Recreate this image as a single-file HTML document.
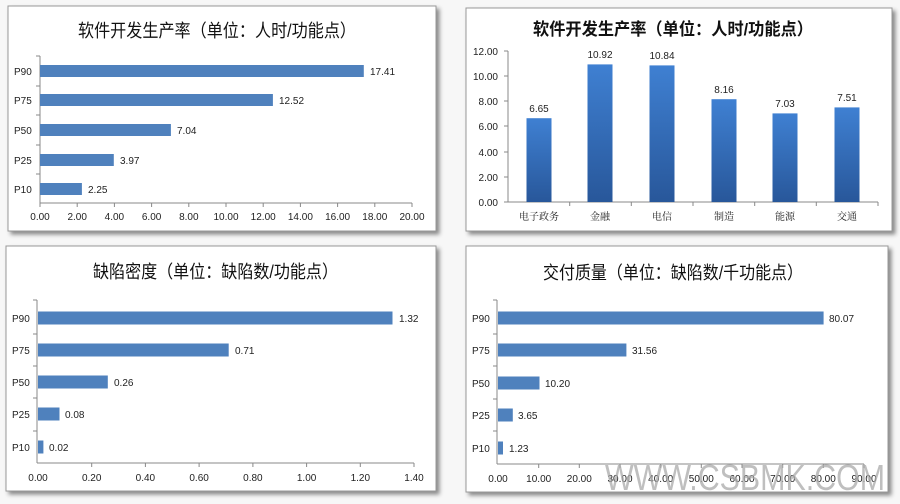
<!DOCTYPE html>
<html><head><meta charset="utf-8"><style>
body{margin:0;background:#f7f7f7;}
svg{display:block;font-family:"Liberation Sans","Noto Sans CJK SC",sans-serif;}
.t{font-size:18px;fill:#111;}
.l{font-size:10px;fill:#222;}
.ax{stroke:#888;stroke-width:1;}
</style></head><body>
<svg width="900" height="504" viewBox="0 0 900 504">
<defs>
<linearGradient id="g" x1="0" y1="0" x2="0" y2="1"><stop offset="0" stop-color="#3f80d2"/><stop offset="1" stop-color="#28579a"/></linearGradient>
<filter id="sh" x="-5%" y="-5%" width="110%" height="115%"><feDropShadow dx="3" dy="3" stdDeviation="2" flood-color="#000" flood-opacity="0.45"/></filter>
</defs>
<rect width="900" height="504" fill="#f7f7f7"/>
<rect x="8" y="6" width="428" height="225" fill="#fff" stroke="#999" filter="url(#sh)"/>
<rect x="466" y="8" width="426" height="223" fill="#fff" stroke="#999" filter="url(#sh)"/>
<rect x="6" y="246" width="430" height="245" fill="#fff" stroke="#999" filter="url(#sh)"/>
<rect x="466" y="246" width="422" height="246" fill="#fff" stroke="#999" filter="url(#sh)"/>

<!-- Panel 1 -->
<text class="t" x="78" y="37" textLength="278" lengthAdjust="spacingAndGlyphs">软件开发生产率（单位：人时/功能点）</text>
<g class="ax"><line x1="40" y1="56" x2="40" y2="203"/><line x1="40" y1="203" x2="412" y2="203"/>
<line x1="36" y1="56" x2="40" y2="56"/><line x1="36" y1="86" x2="40" y2="86"/><line x1="36" y1="115" x2="40" y2="115"/><line x1="36" y1="145" x2="40" y2="145"/><line x1="36" y1="174" x2="40" y2="174"/>
<line x1="40" y1="203" x2="40" y2="207"/><line x1="77.2" y1="203" x2="77.2" y2="207"/><line x1="114.4" y1="203" x2="114.4" y2="207"/><line x1="151.6" y1="203" x2="151.6" y2="207"/><line x1="188.8" y1="203" x2="188.8" y2="207"/><line x1="226" y1="203" x2="226" y2="207"/><line x1="263.2" y1="203" x2="263.2" y2="207"/><line x1="300.4" y1="203" x2="300.4" y2="207"/><line x1="337.6" y1="203" x2="337.6" y2="207"/><line x1="374.8" y1="203" x2="374.8" y2="207"/><line x1="412" y1="203" x2="412" y2="207"/></g>
<g fill="#4f81bd"><rect x="40" y="65" width="323.8" height="12"/><rect x="40" y="94" width="232.9" height="12"/><rect x="40" y="124" width="130.9" height="12"/><rect x="40" y="154" width="73.8" height="12"/><rect x="40" y="183" width="41.9" height="12"/></g>
<g class="l"><text x="14" y="75">P90</text><text x="14" y="104">P75</text><text x="14" y="134">P50</text><text x="14" y="164">P25</text><text x="14" y="193">P10</text>
<text x="370" y="75">17.41</text><text x="279" y="104">12.52</text><text x="177" y="134">7.04</text><text x="120" y="164">3.97</text><text x="88" y="193">2.25</text></g>
<g class="l" text-anchor="middle"><text x="40" y="220">0.00</text><text x="77.2" y="220">2.00</text><text x="114.4" y="220">4.00</text><text x="151.6" y="220">6.00</text><text x="188.8" y="220">8.00</text><text x="226" y="220">10.00</text><text x="263.2" y="220">12.00</text><text x="300.4" y="220">14.00</text><text x="337.6" y="220">16.00</text><text x="374.8" y="220">18.00</text><text x="412" y="220">20.00</text></g>

<!-- Panel 2 -->
<text class="t" x="533" y="35" style="font-weight:bold;font-size:17px" textLength="280" lengthAdjust="spacingAndGlyphs">软件开发生产率（单位：人时/功能点）</text>
<g class="ax"><line x1="508" y1="51" x2="508" y2="202"/><line x1="508" y1="202" x2="878" y2="202"/>
<line x1="504" y1="51" x2="508" y2="51"/><line x1="504" y1="76" x2="508" y2="76"/><line x1="504" y1="101" x2="508" y2="101"/><line x1="504" y1="126" x2="508" y2="126"/><line x1="504" y1="152" x2="508" y2="152"/><line x1="504" y1="177" x2="508" y2="177"/><line x1="504" y1="202" x2="508" y2="202"/>
<line x1="569.7" y1="202" x2="569.7" y2="206"/><line x1="631.3" y1="202" x2="631.3" y2="206"/><line x1="693" y1="202" x2="693" y2="206"/><line x1="754.7" y1="202" x2="754.7" y2="206"/><line x1="816.3" y1="202" x2="816.3" y2="206"/><line x1="878" y1="202" x2="878" y2="206"/></g>
<g fill="url(#g)"><rect x="526.5" y="118.2" width="25" height="83.8"/><rect x="587.5" y="64.4" width="25" height="137.6"/><rect x="649.5" y="65.4" width="25" height="136.6"/><rect x="711.5" y="99.2" width="25" height="102.8"/><rect x="772.5" y="113.4" width="25" height="88.6"/><rect x="834.5" y="107.4" width="25" height="94.6"/></g>
<g class="l" text-anchor="end"><text x="498" y="55">12.00</text><text x="498" y="80">10.00</text><text x="498" y="105">8.00</text><text x="498" y="130">6.00</text><text x="498" y="156">4.00</text><text x="498" y="181">2.00</text><text x="498" y="206">0.00</text></g>
<g class="l" text-anchor="middle"><text x="539" y="112">6.65</text><text x="600" y="58">10.92</text><text x="662" y="59">10.84</text><text x="724" y="93">8.16</text><text x="785" y="107">7.03</text><text x="847" y="101">7.51</text>
<text x="539" y="220" style="font-family:'Noto Serif CJK SC',serif">电子政务</text><text x="600" y="220" style="font-family:'Noto Serif CJK SC',serif">金融</text><text x="662" y="220" style="font-family:'Noto Serif CJK SC',serif">电信</text><text x="724" y="220" style="font-family:'Noto Serif CJK SC',serif">制造</text><text x="785" y="220" style="font-family:'Noto Serif CJK SC',serif">能源</text><text x="847" y="220" style="font-family:'Noto Serif CJK SC',serif">交通</text></g>

<!-- Panel 3 -->
<text class="t" x="93" y="278" textLength="245" lengthAdjust="spacingAndGlyphs">缺陷密度（单位：缺陷数/功能点）</text>
<g class="ax"><line x1="37" y1="300" x2="37" y2="463"/><line x1="37" y1="463" x2="414" y2="463"/>
<line x1="33" y1="300" x2="37" y2="300"/><line x1="33" y1="334" x2="37" y2="334"/><line x1="33" y1="366" x2="37" y2="366"/><line x1="33" y1="398" x2="37" y2="398"/><line x1="33" y1="431" x2="37" y2="431"/>
<line x1="91.7" y1="463" x2="91.7" y2="467"/><line x1="145.4" y1="463" x2="145.4" y2="467"/><line x1="199.1" y1="463" x2="199.1" y2="467"/><line x1="252.9" y1="463" x2="252.9" y2="467"/><line x1="306.6" y1="463" x2="306.6" y2="467"/><line x1="360.3" y1="463" x2="360.3" y2="467"/><line x1="414" y1="463" x2="414" y2="467"/></g>
<g fill="#4f81bd"><rect x="38" y="311.5" width="354.5" height="13"/><rect x="38" y="343.5" width="190.7" height="13"/><rect x="38" y="375.5" width="69.8" height="13"/><rect x="38" y="407.5" width="21.5" height="13"/><rect x="38" y="440.5" width="5.4" height="13"/></g>
<g class="l"><text x="12" y="322">P90</text><text x="12" y="354">P75</text><text x="12" y="386">P50</text><text x="12" y="418">P25</text><text x="12" y="451">P10</text>
<text x="399" y="322">1.32</text><text x="235" y="354">0.71</text><text x="114" y="386">0.26</text><text x="65" y="418">0.08</text><text x="49" y="451">0.02</text></g>
<g class="l" text-anchor="middle"><text x="38" y="481">0.00</text><text x="91.7" y="481">0.20</text><text x="145.4" y="481">0.40</text><text x="199.1" y="481">0.60</text><text x="252.9" y="481">0.80</text><text x="306.6" y="481">1.00</text><text x="360.3" y="481">1.20</text><text x="414" y="481">1.40</text></g>

<!-- Panel 4 -->
<text class="t" x="543" y="279" textLength="260" lengthAdjust="spacingAndGlyphs">交付质量（单位：缺陷数/千功能点）</text>
<g class="ax"><line x1="497" y1="300" x2="497" y2="464"/><line x1="497" y1="464" x2="864" y2="464"/>
<line x1="493" y1="300" x2="497" y2="300"/><line x1="493" y1="334" x2="497" y2="334"/><line x1="493" y1="366" x2="497" y2="366"/><line x1="493" y1="399" x2="497" y2="399"/><line x1="493" y1="431" x2="497" y2="431"/>
<line x1="538.7" y1="464" x2="538.7" y2="468"/><line x1="579.3" y1="464" x2="579.3" y2="468"/><line x1="620" y1="464" x2="620" y2="468"/><line x1="660.7" y1="464" x2="660.7" y2="468"/><line x1="701.3" y1="464" x2="701.3" y2="468"/><line x1="742" y1="464" x2="742" y2="468"/><line x1="782.7" y1="464" x2="782.7" y2="468"/><line x1="823.3" y1="464" x2="823.3" y2="468"/><line x1="864" y1="464" x2="864" y2="468"/></g>
<g fill="#4f81bd"><rect x="498" y="311.5" width="325.6" height="13"/><rect x="498" y="343.5" width="128.4" height="13"/><rect x="498" y="376.5" width="41.5" height="13"/><rect x="498" y="408.5" width="14.8" height="13"/><rect x="498" y="441.5" width="5" height="13"/></g>
<g class="l"><text x="472" y="322">P90</text><text x="472" y="354">P75</text><text x="472" y="387">P50</text><text x="472" y="419">P25</text><text x="472" y="452">P10</text>
<text x="829" y="322">80.07</text><text x="632" y="354">31.56</text><text x="545" y="387">10.20</text><text x="518" y="419">3.65</text><text x="509" y="452">1.23</text></g>
<g class="l" text-anchor="middle"><text x="498" y="482">0.00</text><text x="538.7" y="482">10.00</text><text x="579.3" y="482">20.00</text><text x="620" y="482">30.00</text><text x="660.7" y="482">40.00</text><text x="701.3" y="482">50.00</text><text x="742" y="482">60.00</text><text x="782.7" y="482">70.00</text><text x="823.3" y="482">80.00</text><text x="864" y="482">90.00</text></g>
<text x="605" y="490" style="font-size:36px;fill:#aaa;opacity:0.75" textLength="280" lengthAdjust="spacingAndGlyphs">WWW.CSBMK.COM</text>
</svg>
</body></html>
